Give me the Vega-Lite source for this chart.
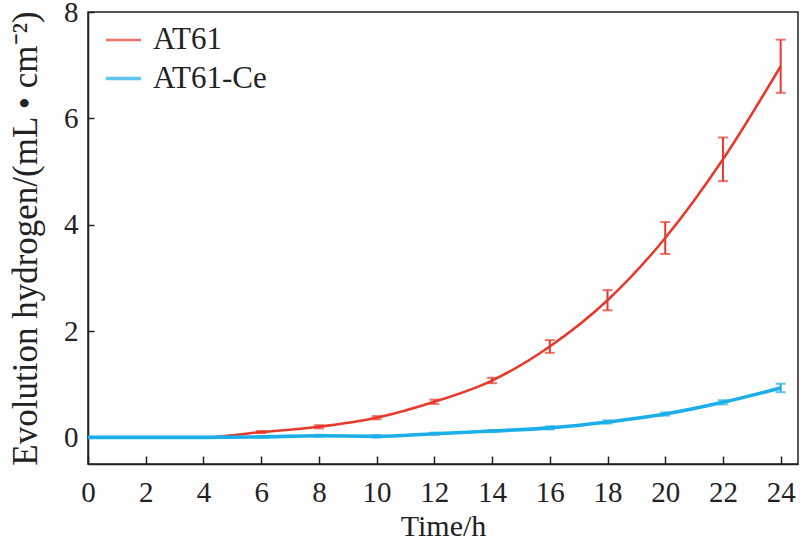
{
  "$schema": "https://vega.github.io/schema/vega-lite/v6.json",
  "width": 710,
  "height": 452,
  "autosize": "none",
  "padding": {"left": 88, "top": 12, "right": 6, "bottom": 75},
  "background": "white",
  "data": {
    "values": [
      {"t": 0, "v": 0, "err": 0, "s": "AT61"},
      {"t": 2, "v": 0, "err": 0, "s": "AT61"},
      {"t": 4, "v": 0, "err": 0, "s": "AT61"},
      {"t": 6, "v": 0.1, "err": 0.02, "s": "AT61"},
      {"t": 8, "v": 0.2, "err": 0.03, "s": "AT61"},
      {"t": 10, "v": 0.37, "err": 0.03, "s": "AT61"},
      {"t": 12, "v": 0.67, "err": 0.04, "s": "AT61"},
      {"t": 14, "v": 1.07, "err": 0.05, "s": "AT61"},
      {"t": 16, "v": 1.71, "err": 0.12, "s": "AT61"},
      {"t": 18, "v": 2.58, "err": 0.19, "s": "AT61"},
      {"t": 20, "v": 3.75, "err": 0.3, "s": "AT61"},
      {"t": 22, "v": 5.23, "err": 0.41, "s": "AT61"},
      {"t": 24, "v": 6.98, "err": 0.5, "s": "AT61"},
      {"t": 0, "v": 0, "err": 0, "s": "AT61-Ce"},
      {"t": 2, "v": 0, "err": 0, "s": "AT61-Ce"},
      {"t": 4, "v": 0, "err": 0, "s": "AT61-Ce"},
      {"t": 6, "v": 0.01, "err": 0.01, "s": "AT61-Ce"},
      {"t": 8, "v": 0.03, "err": 0.02, "s": "AT61-Ce"},
      {"t": 10, "v": 0.02, "err": 0.02, "s": "AT61-Ce"},
      {"t": 12, "v": 0.07, "err": 0.02, "s": "AT61-Ce"},
      {"t": 14, "v": 0.12, "err": 0.02, "s": "AT61-Ce"},
      {"t": 16, "v": 0.18, "err": 0.03, "s": "AT61-Ce"},
      {"t": 18, "v": 0.29, "err": 0.03, "s": "AT61-Ce"},
      {"t": 20, "v": 0.44, "err": 0.03, "s": "AT61-Ce"},
      {"t": 22, "v": 0.66, "err": 0.04, "s": "AT61-Ce"},
      {"t": 24, "v": 0.93, "err": 0.08, "s": "AT61-Ce"}
    ]
  },
  "encoding": {
    "x": {
      "field": "t",
      "type": "quantitative",
      "title": "Time/h",
      "scale": {"domain": [0, 24.6], "nice": false, "zero": false},
      "axis": {
        "values": [0, 2, 4, 6, 8, 10, 12, 14, 16, 18, 20, 22, 24],
        "tickSize": -8,
        "labelPadding": 22,
        "titlePadding": 4,
        "titleFontSize": 30
      }
    },
    "y": {
      "field": "v",
      "type": "quantitative",
      "title": "Evolution hydrogen/(mL • cm⁻²)",
      "scale": {"domain": [-0.5, 8], "nice": false, "zero": false},
      "axis": {
        "values": [0, 2, 4, 6, 8],
        "tickSize": -6,
        "labelPadding": 16,
        "titlePadding": 20,
        "titleFontSize": 35
      }
    },
    "color": {
      "field": "s",
      "type": "nominal",
      "scale": {"domain": ["AT61", "AT61-Ce"], "range": ["#e8382b", "#1caee8"]},
      "legend": {
        "title": null,
        "orient": "none",
        "legendX": 16,
        "legendY": 9,
        "symbolType": "stroke",
        "symbolSize": 1225,
        "symbolStrokeWidth": 3,
        "labelFontSize": 31,
        "labelFont": "Liberation Serif",
        "labelColor": "#222",
        "labelOffset": 10,
        "rowPadding": 4,
        "padding": 0
      }
    }
  },
  "layer": [
    {
      "mark": {"type": "line", "interpolate": "monotone"},
      "encoding": {
        "strokeWidth": {"field": "s", "type": "nominal", "scale": {"domain": ["AT61", "AT61-Ce"], "range": [2.5, 3.6]}, "legend": null}
      }
    },
    {
      "transform": [{"filter": "datum.err > 0"}],
      "mark": {"type": "errorbar", "ticks": {"size": 10}, "thickness": 2},
      "encoding": {
        "yError": {"field": "err"}
      }
    }
  ],
  "config": {
    "font": "Liberation Serif",
    "view": {"stroke": "#222", "strokeWidth": 1.5},
    "axis": {
      "grid": false,
      "domainColor": "#222",
      "domainWidth": 1.5,
      "tickColor": "#222",
      "tickWidth": 1.5,
      "labelFont": "Liberation Serif",
      "labelFontSize": 29,
      "labelColor": "#222",
      "labelFlush": false,
      "labelOverlap": false,
      "titleFont": "Liberation Serif",
      "titleFontWeight": "normal",
      "titleColor": "#222"
    }
  }
}
